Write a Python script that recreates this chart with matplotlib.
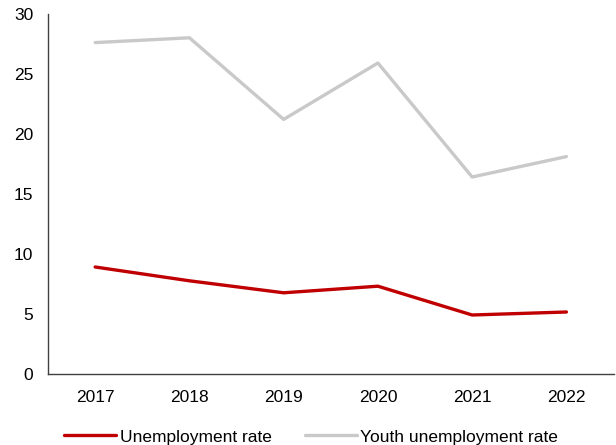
import matplotlib.pyplot as plt

plt.rcParams['font.family'] = ['Liberation Sans', 'DejaVu Sans']

years = [2017, 2018, 2019, 2020, 2021, 2022]
unemployment = [8.9, 7.75, 6.75, 7.3, 4.9, 5.15]
youth_unemployment = [27.6, 28.0, 21.2, 25.9, 16.4, 18.1]

fig = plt.figure(figsize=(6.16, 4.45), dpi=100)
ax = fig.add_axes([0.078, 0.16, 0.918, 0.809])

ax.plot(years, unemployment, color='#C00000', lw=2.4, label='Unemployment rate',
        solid_capstyle='round')
ax.plot(years, youth_unemployment, color='#C9C9C9', lw=2.4, label='Youth unemployment rate',
        solid_capstyle='round')

ax.set_xlim(2016.5, 2022.5)
ax.set_ylim(0, 30)
ax.set_xticks(years)
ax.set_yticks(range(0, 31, 5))
ax.tick_params(length=0, labelsize=12.5, colors='black')
ax.tick_params(axis='x', pad=12)
ax.tick_params(axis='y', pad=10.5)

for side in ['top', 'right']:
    ax.spines[side].set_visible(False)
for side in ['left', 'bottom']:
    ax.spines[side].set_color('#404040')
    ax.spines[side].set_linewidth(1)

fig.legend(loc='lower center', bbox_to_anchor=(0.505, -0.034), ncol=2, frameon=False,
           fontsize=12.5, handlelength=3.0, handletextpad=0.2, columnspacing=1.9)

fig.savefig('out.png', dpi=100)
